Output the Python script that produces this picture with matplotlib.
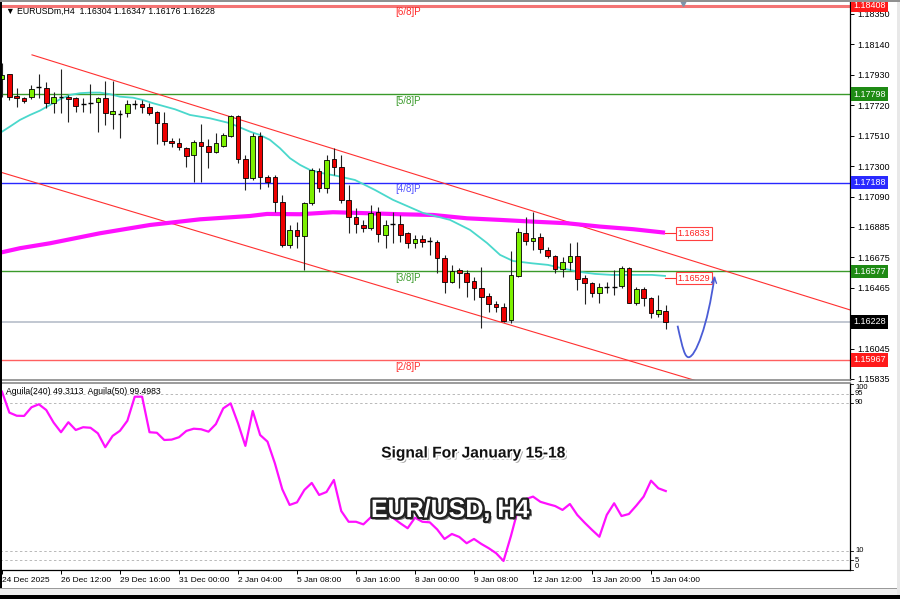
import matplotlib.pyplot as plt
import matplotlib.patheffects as pe
from matplotlib.patches import Rectangle
from matplotlib.path import Path
from matplotlib.patches import PathPatch
from matplotlib.transforms import blended_transform_factory

plt.rcParams['font.family'] = ['Liberation Sans', 'DejaVu Sans']

# H4 candles, oldest first (24 Dec 2025 -> 15 Jan 2026 12:00)
opens = [1.17902, 1.17935, 1.17785, 1.17769, 1.17780, 1.17849, 1.17838, 1.17735, 1.17780, 1.17780,
         1.17769, 1.17730, 1.17742, 1.17742, 1.17769, 1.17659, 1.17666, 1.17666, 1.17735, 1.17728,
         1.17711, 1.17673, 1.17601, 1.17475, 1.17459, 1.17425, 1.17379, 1.17470, 1.17441, 1.17401,
         1.17443, 1.17509, 1.17647, 1.17349, 1.17218, 1.17509, 1.17229, 1.17229, 1.17057, 1.16758,
         1.16862, 1.16820, 1.17046, 1.17270, 1.17149, 1.17349, 1.17298, 1.17069, 1.16953, 1.16896,
         1.16873, 1.16988, 1.16827, 1.16908, 1.16903, 1.16839, 1.16770, 1.16800, 1.16788, 1.16781,
         1.16671, 1.16501, 1.16586, 1.16568, 1.16510, 1.16464, 1.16407, 1.16350, 1.16329, 1.16238,
         1.16547, 1.16843, 1.16788, 1.16816, 1.16724, 1.16683, 1.16591, 1.16643, 1.16685, 1.16529,
         1.16495, 1.16426, 1.16471, 1.16467, 1.16476, 1.16598, 1.16361, 1.16453, 1.16395, 1.16283,
         1.16304]
highs = [1.18012, 1.17937, 1.17838, 1.17780, 1.17861, 1.17937, 1.17884, 1.17815, 1.17969, 1.17792,
         1.17780, 1.17769, 1.17866, 1.17780, 1.17890, 1.17890, 1.17689, 1.17757, 1.17757, 1.17757,
         1.17735, 1.17682, 1.17677, 1.17494, 1.17494, 1.17436, 1.17482, 1.17592, 1.17487, 1.17528,
         1.17528, 1.17654, 1.17654, 1.17379, 1.17528, 1.17539, 1.17241, 1.17241, 1.17103, 1.16896,
         1.16919, 1.17057, 1.17287, 1.17287, 1.17379, 1.17425, 1.17379, 1.17172, 1.17011, 1.16931,
         1.17034, 1.17022, 1.16931, 1.16988, 1.16965, 1.16850, 1.16827, 1.16827, 1.16816, 1.16793,
         1.16690, 1.16621, 1.16598, 1.16586, 1.16540, 1.16609, 1.16430, 1.16375, 1.16357, 1.16717,
         1.16873, 1.16953, 1.16988, 1.16839, 1.16743, 1.16690, 1.16678, 1.16770, 1.16781, 1.16552,
         1.16506, 1.16495, 1.16506, 1.16586, 1.16614, 1.16609, 1.16471, 1.16467, 1.16402, 1.16414,
         1.16347]
lows = [1.17778, 1.17757, 1.17711, 1.17735, 1.17762, 1.17769, 1.17700, 1.17666, 1.17666, 1.17608,
        1.17677, 1.17677, 1.17666, 1.17539, 1.17585, 1.17556, 1.17494, 1.17642, 1.17693, 1.17666,
        1.17654, 1.17452, 1.17447, 1.17436, 1.17413, 1.17298, 1.17195, 1.17195, 1.17287, 1.17390,
        1.17436, 1.17505, 1.17321, 1.17137, 1.17206, 1.17142, 1.17156, 1.16988, 1.16747, 1.16736,
        1.16736, 1.16586, 1.17034, 1.17126, 1.17115, 1.17241, 1.17046, 1.16839, 1.16839, 1.16850,
        1.16862, 1.16781, 1.16736, 1.16770, 1.16781, 1.16736, 1.16736, 1.16747, 1.16690, 1.16563,
        1.16430, 1.16495, 1.16460, 1.16402, 1.16379, 1.16184, 1.16299, 1.16299, 1.16230, 1.16221,
        1.16536, 1.16758, 1.16724, 1.16701, 1.16667, 1.16568, 1.16540, 1.16586, 1.16448, 1.16352,
        1.16402, 1.16361, 1.16426, 1.16414, 1.16460, 1.16357, 1.16345, 1.16338, 1.16253, 1.16260,
        1.16176]
closes = [1.17930, 1.17780, 1.17769, 1.17751, 1.17831, 1.17842, 1.17735, 1.17776, 1.17773, 1.17764,
          1.17716, 1.17725, 1.17735, 1.17769, 1.17666, 1.17682, 1.17659, 1.17728, 1.17728, 1.17711,
          1.17666, 1.17601, 1.17475, 1.17459, 1.17432, 1.17372, 1.17470, 1.17441, 1.17401, 1.17459,
          1.17516, 1.17647, 1.17349, 1.17218, 1.17509, 1.17225, 1.17195, 1.17057, 1.16758, 1.16862,
          1.16820, 1.17046, 1.17275, 1.17149, 1.17344, 1.17298, 1.17069, 1.16953, 1.16903, 1.16873,
          1.16981, 1.16834, 1.16896, 1.16901, 1.16827, 1.16774, 1.16798, 1.16781, 1.16781, 1.16667,
          1.16501, 1.16581, 1.16568, 1.16506, 1.16460, 1.16402, 1.16350, 1.16333, 1.16237, 1.16552,
          1.16850, 1.16786, 1.16809, 1.16729, 1.16685, 1.16591, 1.16643, 1.16683, 1.16522, 1.16495,
          1.16426, 1.16467, 1.16464, 1.16476, 1.16598, 1.16361, 1.16453, 1.16391, 1.16292, 1.16311,
          1.16228]

# moving averages (bar index, price)
cyan_idx = [-0.27, 1.08, 2.44, 3.80, 5.15, 6.51, 7.86, 9.22, 10.58, 11.93, 13.29, 14.64, 16.0, 17.76,
            19.12, 20.47, 21.83, 23.46, 25.49, 28.2, 30.92, 33.63, 34.98, 36.34, 37.69, 39.05, 40.41,
            41.76, 43.53, 45.42, 47.86, 50.58, 53.02, 57.08, 60.75, 63.46, 65.76, 67.53, 69.29, 71.86,
            74.03, 75.93, 78.1, 80.41, 82.71, 85.42, 88.14, 89.9]
cyan_val = [1.17530, 1.17574, 1.17620, 1.17654, 1.17684, 1.17723, 1.17762, 1.17792, 1.17804, 1.17808,
            1.17808, 1.17797, 1.17780, 1.17773, 1.17757, 1.17735, 1.17716, 1.17693, 1.17654, 1.17631,
            1.17597, 1.17539, 1.17516, 1.17482, 1.17425, 1.17356, 1.17310, 1.17275, 1.17252, 1.17234,
            1.17206, 1.17137, 1.17069, 1.16979, 1.16931, 1.16862, 1.16772, 1.16690, 1.16648, 1.16632,
            1.16621, 1.16598, 1.16574, 1.16559, 1.16552, 1.16552, 1.16552, 1.16545]
mag_idx = [-0.27, 2.44, 6.51, 13.29, 20.07, 26.85, 33.63, 35.93, 40.41, 44.88, 49.49, 53.97, 58.44,
           63.05, 67.53, 72.0, 76.61, 81.08, 85.56, 89.9]
mag_val = [1.16705, 1.16736, 1.16770, 1.16839, 1.16896, 1.16935, 1.16958, 1.16972, 1.16970, 1.16984,
           1.16977, 1.16970, 1.16965, 1.16942, 1.16931, 1.16919, 1.16908, 1.16885, 1.16867, 1.16843]
ma_labels = ['1.16833', '1.16529']

# Aguila oscillator, one value per bar
aguila = [96.1, 84.8, 83.1, 83.0, 87.7, 89.3, 86.2, 79.4, 74.2, 79.6,
          75.4, 76.9, 76.6, 73.6, 66.1, 72.2, 75.0, 80.4, 93.4, 93.4,
          74.2, 73.9, 70.0, 70.2, 71.5, 74.9, 76.1, 75.8, 74.5, 78.6,
          87.1, 89.8, 79.0, 66.8, 85.7, 72.7, 69.1, 57.4, 43.4, 34.9,
          36.3, 43.0, 46.8, 40.3, 41.9, 48.4, 31.6, 25.8, 25.8, 24.4,
          28.2, 29.0, 30.0, 28.0, 25.0, 22.3, 28.0, 25.8, 25.5, 21.7,
          16.5, 19.2, 17.6, 14.2, 16.5, 13.8, 11.5, 8.8, 4.6, 18.0,
          33.0, 38.0, 39.4, 36.6, 35.4, 34.3, 32.2, 35.4, 29.5, 25.3,
          21.4, 17.7, 29.5, 35.8, 28.9, 30.0, 34.5, 39.4, 48.0, 43.9,
          42.4]

# channel lines (bar index, price)
upper_ch = [(4.07, 1.18068), (114.98, 1.16311)]
lower_ch = [(-0.27, 1.17261), (114.98, 1.15505)]

# Murrey levels
levels = [1.18408, 1.17798, 1.17188, 1.16577, 1.15967]
level_names = ['[6/8]P', '[5/8]P', '[4/8]P', '[3/8]P', '[2/8]P']
level_colors = ['#f47474', '#3a9a2a', '#2828ff', '#3a9a2a', '#ff6060']
level_text_colors = ['#ff2a2a', '#3a9a2a', '#5050ff', '#3a9a2a', '#ff3030']
level_box_colors = ['#ff1a1a', '#1e8a14', '#2a2aff', '#1e8a14', '#ff1a1a']
bid = 1.16228

# 1.16255 sits under the bid box in the reference, so only its tick shows
price_ticks = [1.18350, 1.18140, 1.17930, 1.17720, 1.17510, 1.17300, 1.17090, 1.16885,
               1.16675, 1.16465, 1.16255, 1.16045, 1.15835]
price_tick_labels = ['1.18350', '1.18140', '1.17930', '1.17720', '1.17510', '1.17300', '1.17090',
                     '1.16885', '1.16675', '1.16465', '', '1.16045', '1.15835']
time_idx = [0, 8, 16, 24, 32, 40, 48, 56, 64, 72, 80, 88]
time_labels = ['24 Dec 2025', '26 Dec 12:00', '29 Dec 16:00', '31 Dec 00:00', '2 Jan 04:00',
               '5 Jan 08:00', '6 Jan 16:00', '8 Jan 00:00', '9 Jan 08:00', '12 Jan 12:00',
               '13 Jan 20:00', '15 Jan 04:00']
osc_levels = [95, 90, 10, 5]

W, H = 900, 599


def box(x0, y0, x1, y1):
    return [x0 / W, 1 - y1 / H, (x1 - x0) / W, (y1 - y0) / H]


fig = plt.figure(figsize=(9, 5.99), dpi=100)
ax = fig.add_axes(box(0, 0, 850, 380))
ax2 = fig.add_axes(box(0, 383, 850, 570))

xlim = (-0.27, 114.98)
ax.set_xlim(xlim)
ax.set_ylim(1.15828, 1.18446)

# levels
for lv, c in zip(levels, level_colors):
    ax.axhline(lv, color=c, lw=2.2 if lv == levels[0] else 1.0, zorder=1)
ax.axhline(bid, color='#b6bec9', lw=1.2, zorder=1)
for lv, name, c in zip(levels, level_names, level_text_colors):
    ax.text(53.3, lv - 0.00012, name, color=c, fontsize=7, va='top', ha='left', zorder=2)

# channel
ax.plot(*zip(*upper_ch), color='#ff3030', lw=0.8, zorder=2)
ax.plot(*zip(*lower_ch), color='#ff3030', lw=0.8, zorder=2)

# moving averages
ax.plot(mag_idx, mag_val, color='#ff10ff', lw=3.0, solid_capstyle='butt', zorder=3)
ax.plot(cyan_idx, cyan_val, color='#4ad8cc', lw=1.3, zorder=3)

# candles
for i in range(len(opens)):
    o, h, l, c = opens[i], highs[i], lows[i], closes[i]
    ax.vlines(i, l, h, color='#222222', lw=0.8, zorder=4)
    if abs(c - o) < 0.00012:
        ax.hlines((o + c) / 2, i - 0.33, i + 0.33, color='black', lw=1.0, zorder=5)
    else:
        col = '#7cf000' if c > o else '#ee0000'
        ax.bar(i, abs(c - o), bottom=min(o, c), width=0.64, color=col,
               edgecolor='black', linewidth=0.6, zorder=5)

# label boxes for MA ends
for lab, lab_y in zip(ma_labels, [1.16838, 1.16529]):
    ax.plot([89.9, 91.5], [lab_y, lab_y], color='#ff3030', lw=0.8, zorder=3)
    ax.text(91.6, lab_y, lab, color='#ff2020', fontsize=6.5, va='center', ha='left', zorder=6,
            bbox=dict(boxstyle='square,pad=0.18', fc='white', ec='#ff4040', lw=0.8))

# blue projection arrow
verts = [(91.6, 1.16202), (92.3, 1.16040), (92.6, 1.15985), (93.1, 1.15985),
         (94.0, 1.15985), (95.7, 1.16200), (96.6, 1.16540)]
codes = [Path.MOVETO] + [Path.CURVE4] * 6
ax.add_patch(PathPatch(Path(verts, codes), fc='none', ec='#4a5cd6', lw=1.3, zorder=6))
ax.annotate('', xy=(96.7, 1.16560), xytext=(96.55, 1.16500),
            arrowprops=dict(arrowstyle='->', color='#4a5cd6', lw=1.0, mutation_scale=9), zorder=6)
ax.plot(92.3, 1.18425, marker='v', color='#7f93a8', ms=4, zorder=6, clip_on=False)

# axes styling main
ax.set_facecolor('white')
ax.set_xticks([])
ax.yaxis.tick_right()
ax.set_yticks(price_ticks)
ax.set_yticklabels(price_tick_labels)
ax.tick_params(axis='y', length=3, width=0.7, labelsize=6.5, pad=2, colors='black')
for s in ['left', 'top']:
    ax.spines[s].set_visible(False)
ax.spines['right'].set_color('black')
ax.spines['right'].set_linewidth(0.9)
ax.spines['bottom'].set_color('#8a8a8a')
ax.spines['bottom'].set_linewidth(1.2)

tr = blended_transform_factory(ax.transAxes, ax.transData)
for lv, c in zip(levels, level_box_colors):
    ax.text(1.004, lv, '%.5f' % lv, transform=tr, color='white', fontsize=6.5, va='center',
            ha='left', zorder=7, clip_on=False,
            bbox=dict(boxstyle='square,pad=0.25', fc=c, ec='none'))
ax.text(1.004, bid, '%.5f' % bid, transform=tr, color='white', fontsize=6.5, va='center',
        ha='left', zorder=7, clip_on=False, bbox=dict(boxstyle='square,pad=0.25', fc='black', ec='none'))

# oscillator panel
ax2.set_xlim(xlim)
ax2.set_ylim(-0.27, 100.8)
for lv in osc_levels:
    ax2.axhline(lv, color='#b8b8b8', lw=0.7, ls=(0, (2.5, 2.5)))
ax2.plot(range(len(aguila)), aguila, color='#ff10ff', lw=1.6, zorder=3)
ax2.set_yticks([])
ax2.set_xticks(time_idx)
ax2.set_xticklabels(time_labels)
for lab in ax2.get_xticklabels():
    lab.set_horizontalalignment('left')
ax2.tick_params(axis='x', length=3, width=0.7, labelsize=6, pad=2)
ax2.spines['left'].set_visible(False)
ax2.spines['top'].set_color('#8a8a8a')
ax2.spines['top'].set_linewidth(1.2)
ax2.spines['right'].set_linewidth(0.9)
ax2.spines['bottom'].set_linewidth(0.9)
tr2 = blended_transform_factory(ax2.transAxes, ax2.transData)
for v, lab, va in [(100, '100', 'top'), (95, '95', 'center'), (90, '90', 'center'),
                   (10, '10', 'center'), (5, '5', 'center'), (0, '0', 'bottom')]:
    ax2.text(1.006, v, lab, transform=tr2, fontsize=5.5, va=va, ha='left', clip_on=False)
    ax2.plot([1.0, 1.004], [v, v], transform=tr2, color='black', lw=0.6, clip_on=False)

# header texts
fig.text(6 / W, 1 - 11 / H, '\u25bc EURUSDm,H4  1.16304 1.16347 1.16176 1.16228',
         fontsize=6.3, va='center', ha='left')
fig.text(6 / W, 1 - 392 / H, 'Aguila(240) 49.3113  Aguila(50) 99.4983', fontsize=6.2,
         va='center', ha='left')

fig.text(473 / W, 1 - 453 / H, 'Signal For January 15-18', fontsize=11.2, weight='bold',
         ha='center', va='center', color='#111111', zorder=10,
         path_effects=[pe.SimplePatchShadow(offset=(1.5, -1.5), shadow_rgbFace='#808080', alpha=0.7),
                       pe.Stroke(linewidth=2.5, foreground='white'), pe.Normal()])
fig.text(450 / W, 1 - 510 / H, 'EUR/USD, H4', fontsize=18, weight='bold',
         ha='center', va='center', color='white', zorder=10,
         path_effects=[pe.SimplePatchShadow(offset=(2, -2), shadow_rgbFace='#555555', alpha=0.8),
                       pe.Stroke(linewidth=3.4, foreground='#222222'), pe.Normal()])

# window frame
fig.add_artist(Rectangle((0, 0), 2 / W, 1, transform=fig.transFigure, fc='black', ec='none'))
fig.add_artist(Rectangle((0, 0), 1, 4 / H, transform=fig.transFigure, fc='black', ec='none'))
fig.add_artist(Rectangle((0, 4 / H), 1, 7 / H, transform=fig.transFigure, fc='#f0f0f0', ec='none'))
fig.add_artist(Rectangle((0, 10.5 / H), 1, 0.8 / H, transform=fig.transFigure, fc='#9a9a9a', ec='none'))
fig.add_artist(Rectangle((897 / W, 4 / H), 3 / W, 1, transform=fig.transFigure, fc='#e8e8e8', ec='none'))
fig.add_artist(Rectangle((0, 1 - 1.5 / H), 1, 1.5 / H, transform=fig.transFigure, fc='#909090', ec='none'))

fig.savefig('out.png', dpi=100)
